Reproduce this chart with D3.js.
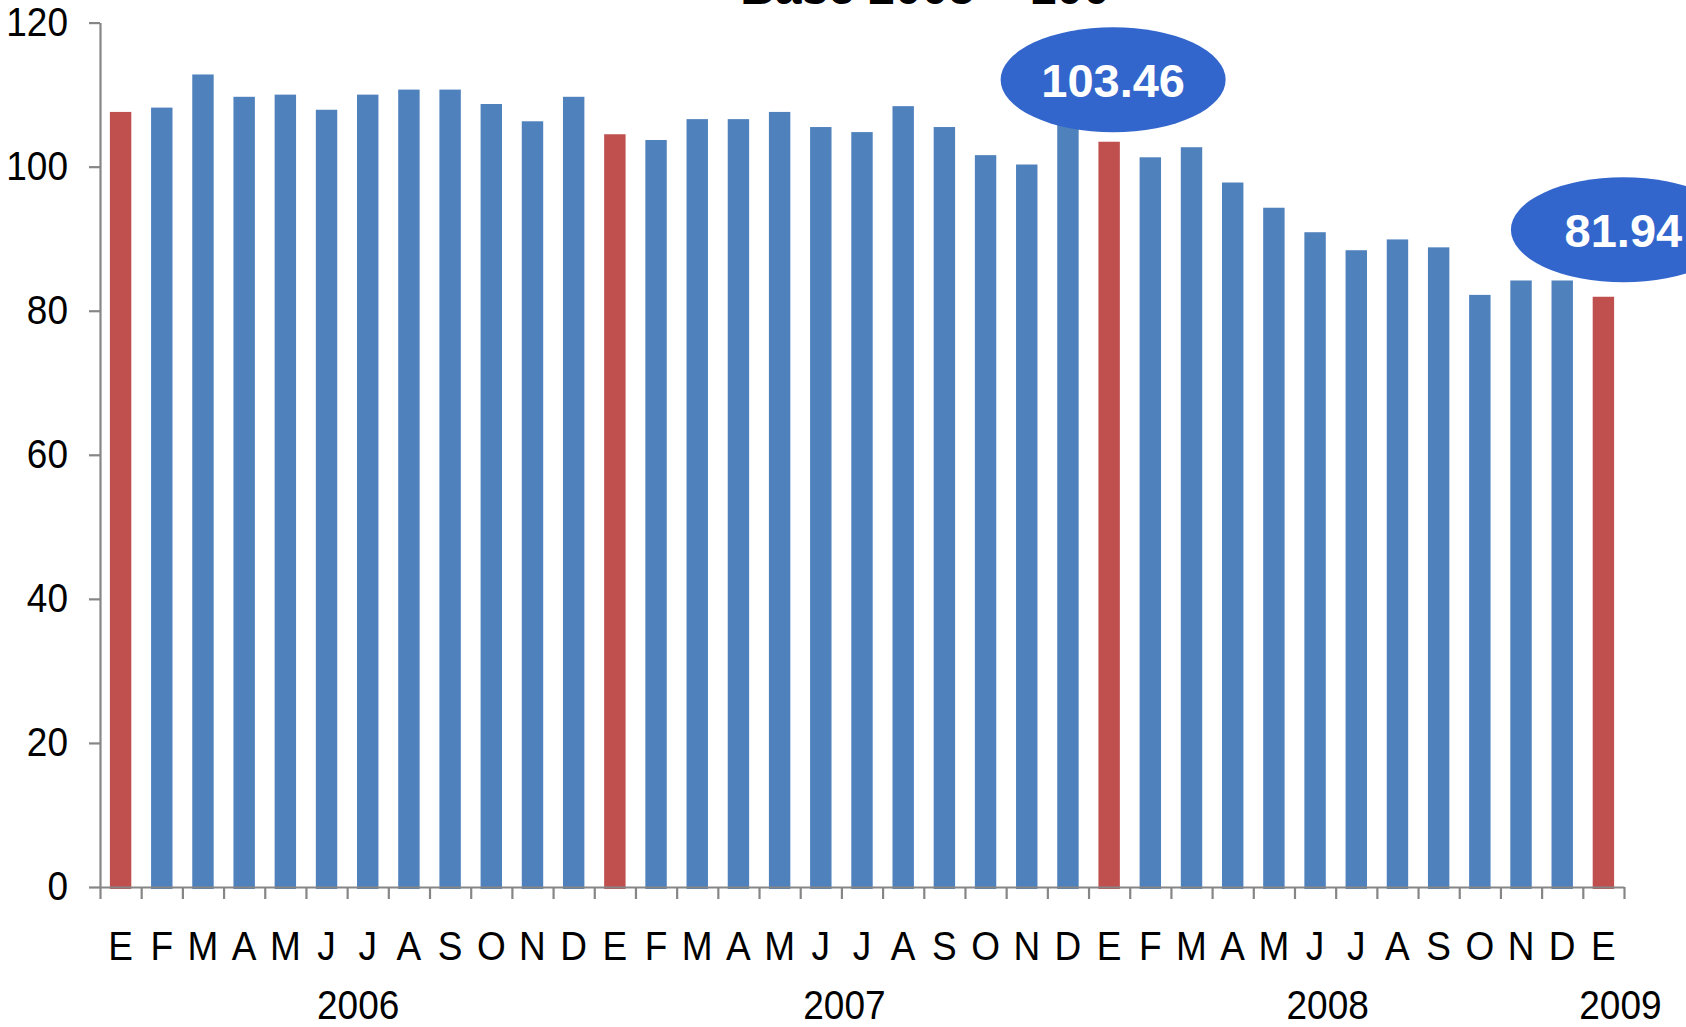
<!DOCTYPE html>
<html>
<head>
<meta charset="utf-8">
<script src="https://cdn.jsdelivr.net/npm/d3@7"></script>
<style>
  html, body { margin: 0; padding: 0; background: #ffffff; }
  svg { display: block; }
  text { font-family: "Liberation Sans", Arial, sans-serif; }
</style>
</head>
<body>
<svg id="chart" width="1686" height="1027"></svg>
<script>
// ---- data ----
const months = ["E","F","M","A","M","J","J","A","S","O","N","D",
                "E","F","M","A","M","J","J","A","S","O","N","D",
                "E","F","M","A","M","J","J","A","S","O","N","D",
                "E"];
const years = ["2006","2007","2008","2009"];
const values = [107.6,108.2,112.8,109.7,110.0,107.9,110.0,110.7,110.7,108.7,106.3,109.7,
                104.5,103.7,106.6,106.6,107.6,105.5,104.8,108.4,105.5,101.6,100.3,107.2,
                103.46,101.3,102.7,97.8,94.3,90.9,88.4,89.9,88.8,82.2,84.2,84.2,
                81.94];
const yTicks = [0,20,40,60,80,100,120];
const calloutIndex = [24, 36];
const calloutText = ["103.46", "81.94"];
const titleText = "Base 2005 = 100";

// ---- layout ----
const svg = d3.select("#chart");
const left = 100, right = 1624, y0px = 887, yTop = 22.6;
const blue = "#4F81BD", red = "#C0504D", axisColor = "#868686";

const x = d3.scaleBand().domain(d3.range(values.length)).range([left, right])
  .paddingInner(0.48).paddingOuter(0.24);
const y = d3.scaleLinear().domain([0, 120]).range([y0px, yTop]);
const edge = d3.scaleLinear().domain([0, values.length]).range([left, right]);

// title (cut off at top, as in the reference)
svg.append("text").attr("x", 925).attr("y", 4).attr("text-anchor", "middle")
  .attr("font-size", 48).attr("font-weight", "bold").attr("fill", "#000").text(titleText);

// bars
svg.append("g").selectAll("rect").data(values).join("rect")
  .attr("x", (d, i) => x(i)).attr("width", x.bandwidth())
  .attr("y", d => y(d)).attr("height", d => y(0) - y(d) + 2)
  .attr("fill", (d, i) => months[i] === "E" ? red : blue);

// y axis
const yAxis = svg.append("g").attr("transform", `translate(${left},0)`)
  .call(d3.axisLeft(y).tickValues(yTicks).tickSize(11).tickSizeOuter(0).tickPadding(21));
yAxis.select(".domain").attr("stroke", axisColor).attr("stroke-width", 2.2);
yAxis.selectAll(".tick line").attr("stroke", axisColor).attr("stroke-width", 2.2);
yAxis.selectAll(".tick text").attr("fill", "#000").attr("font-size", 37)
  .attr("font-family", "Liberation Sans, Arial, sans-serif")
  .attr("dy", "0.32em").attr("transform", "scale(1,1.08)");

// x axis with ticks at category boundaries
const xAxis = svg.append("g").attr("transform", `translate(0,${y0px})`)
  .call(d3.axisBottom(edge).tickValues(d3.range(values.length + 1)).tickSize(12)
    .tickSizeOuter(0).tickFormat(""));
xAxis.select(".domain").attr("stroke", axisColor).attr("stroke-width", 2.2);
xAxis.selectAll(".tick line").attr("stroke", axisColor).attr("stroke-width", 2.2);

// month labels
svg.append("g").selectAll("text").data(months).join("text")
  .attr("transform", (d, i) => `translate(${x(i) + x.bandwidth() / 2},960) scale(1,1.08)`)
  .attr("text-anchor", "middle").attr("font-size", 37).attr("fill", "#000")
  .text(d => d);

// year labels centred under their months
const yearShift = [11, 3, -8, 17];
svg.append("g").selectAll("text").data(years).join("text")
  .attr("transform", (d, k) => {
    const idx = d3.range(values.length).filter(i => Math.floor(i / 12) === k);
    const cx = d3.mean(idx, i => x(i) + x.bandwidth() / 2) + yearShift[k];
    return `translate(${cx},1018.5) scale(1,1.08)`;
  })
  .attr("text-anchor", "middle").attr("font-size", 37).attr("fill", "#000")
  .text(d => d);

// callout bubbles
const bubbleDx = [4, 20], bubbleDy = [62, 67];
const callouts = svg.append("g").selectAll("g").data(calloutIndex).join("g")
  .attr("transform", (d, k) => `translate(${x(d) + x.bandwidth() / 2 + bubbleDx[k]},${y(values[d]) - bubbleDy[k]})`);
callouts.append("ellipse").attr("rx", 112.5).attr("ry", 52.5).attr("fill", "#3366CC");
callouts.append("text").attr("text-anchor", "middle").attr("dy", 17)
  .attr("font-size", 47).attr("font-weight", "bold").attr("fill", "#fff")
  .text((d, k) => calloutText[k]);
</script>
</body>
</html>
